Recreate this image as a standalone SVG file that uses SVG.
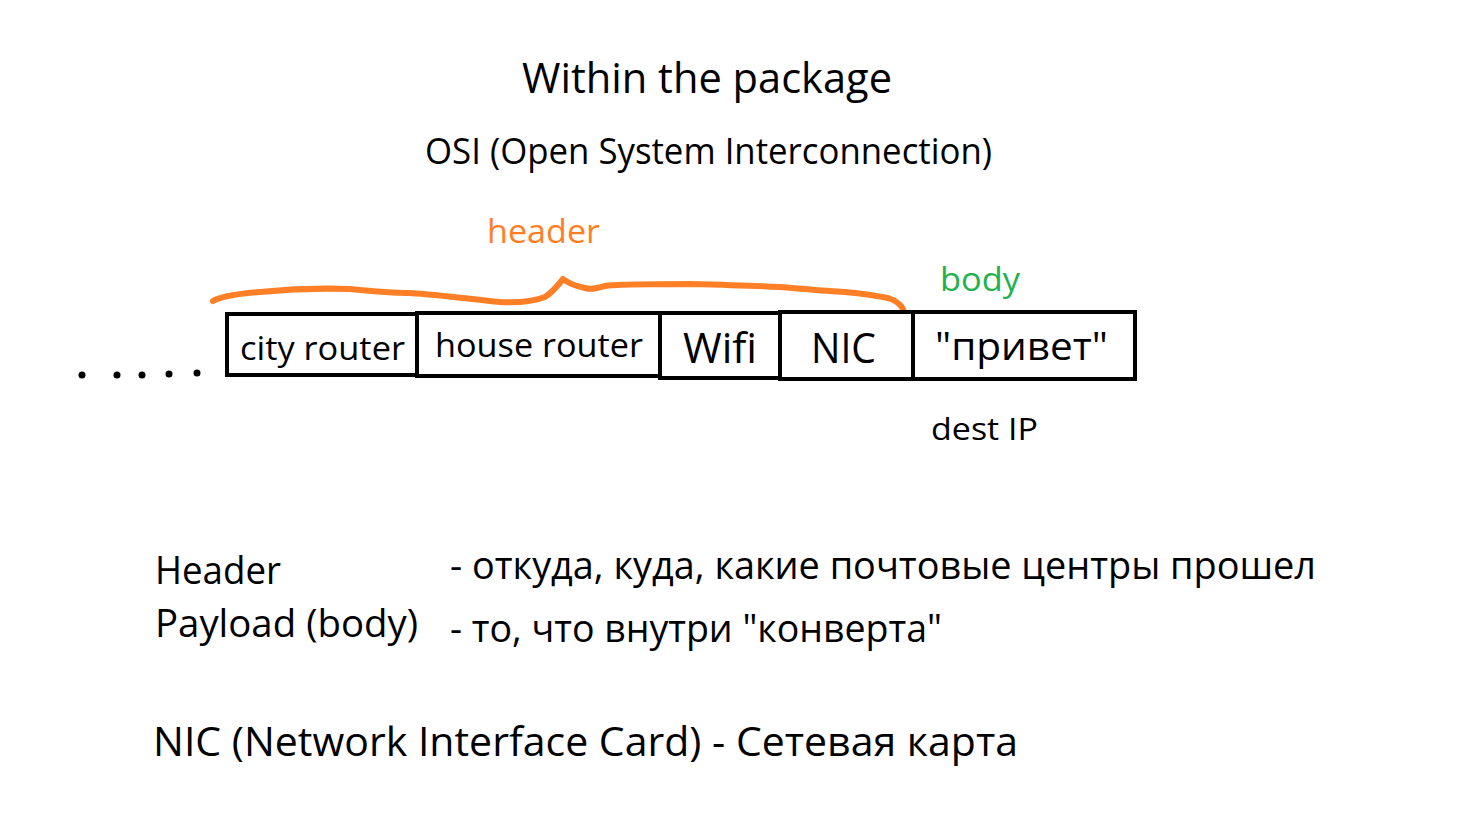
<svg xmlns="http://www.w3.org/2000/svg" width="1480" height="825" viewBox="0 0 1480 825">
<style>
text{font-family:"Open Sans","Noto Sans","DejaVu Sans",sans-serif;fill:#000}
.box{fill:#fff;stroke:#000;stroke-width:4}
.brace{fill:none;stroke:#FF7F27;stroke-width:6;stroke-linecap:round;stroke-linejoin:round}
</style>
<rect width="1480" height="825" fill="#fff"/>
<g id="title">
<text x="522" y="93" font-size="42" textLength="370" lengthAdjust="spacingAndGlyphs">Within the package</text>
<text x="425" y="164" font-size="36" textLength="567" lengthAdjust="spacingAndGlyphs">OSI (Open System Interconnection)</text>
</g>
<g id="header-label"><text x="487" y="243" font-size="32" textLength="113" lengthAdjust="spacingAndGlyphs" style="fill:#FF7F27">header</text></g>
<g id="body-label"><text x="940" y="291" font-size="33" textLength="80" lengthAdjust="spacingAndGlyphs" style="fill:#22B14C">body</text></g>
<g id="connectors">
<path class="brace" d="M213,301 C220,297 235,294 260,292 C290,289 320,288 350,289 C370,291 390,293 410,293 C440,295 470,299 500,302 C520,303 535,301 545,297 C553,292 558,285 563,279 C568,283 575,286 585,288 C592,290 597,288 605,286 C615,284 640,284 690,284 C730,285 760,286 780,287 C805,289 825,291 845,292 C865,294 878,296 888,298 C897,301 901,305 903,309"/>
</g>
<g id="dots">
<circle cx="82" cy="375" r="3.5"/>
<circle cx="117" cy="375" r="3.5"/>
<circle cx="142" cy="375" r="3.5"/>
<circle cx="169" cy="374" r="3.5"/>
<circle cx="197" cy="373" r="3.5"/>
</g>
<g id="city-router">
<rect class="box" x="227" y="314" width="190" height="61"/>
<text x="240" y="360" font-size="33" textLength="165" lengthAdjust="spacingAndGlyphs">city router</text>
</g>
<g id="house-router">
<rect class="box" x="417" y="313" width="243" height="63"/>
<text x="435" y="357" font-size="33" textLength="208" lengthAdjust="spacingAndGlyphs">house router</text>
</g>
<g id="wifi">
<rect class="box" x="660" y="313" width="120" height="65"/>
<text x="683" y="363" font-size="42" textLength="74" lengthAdjust="spacingAndGlyphs">Wifi</text>
</g>
<g id="nic">
<rect class="box" x="780" y="312" width="133" height="67"/>
<text x="811" y="363" font-size="42" textLength="65" lengthAdjust="spacingAndGlyphs">NIC</text>
</g>
<g id="privet">
<rect class="box" x="913" y="312" width="222" height="67"/>
<text x="935" y="360" font-size="38" textLength="173" lengthAdjust="spacingAndGlyphs">"привет"</text>
</g>
<g id="dest-ip"><text x="931" y="440" font-size="31" textLength="107" lengthAdjust="spacingAndGlyphs">dest IP</text></g>
<g id="legend">
<text x="155" y="584" font-size="38" textLength="126" lengthAdjust="spacingAndGlyphs">Header</text>
<text x="450" y="579" font-size="38" textLength="866" lengthAdjust="spacingAndGlyphs">- откуда, куда, какие почтовые центры прошел</text>
<text x="155" y="637" font-size="38" textLength="263" lengthAdjust="spacingAndGlyphs">Payload (body)</text>
<text x="450" y="642" font-size="38" textLength="492" lengthAdjust="spacingAndGlyphs">- то, что внутри "конверта"</text>
<text x="153" y="756" font-size="41" textLength="865" lengthAdjust="spacingAndGlyphs">NIC (Network Interface Card) - Сетевая карта</text>
</g>
</svg>
